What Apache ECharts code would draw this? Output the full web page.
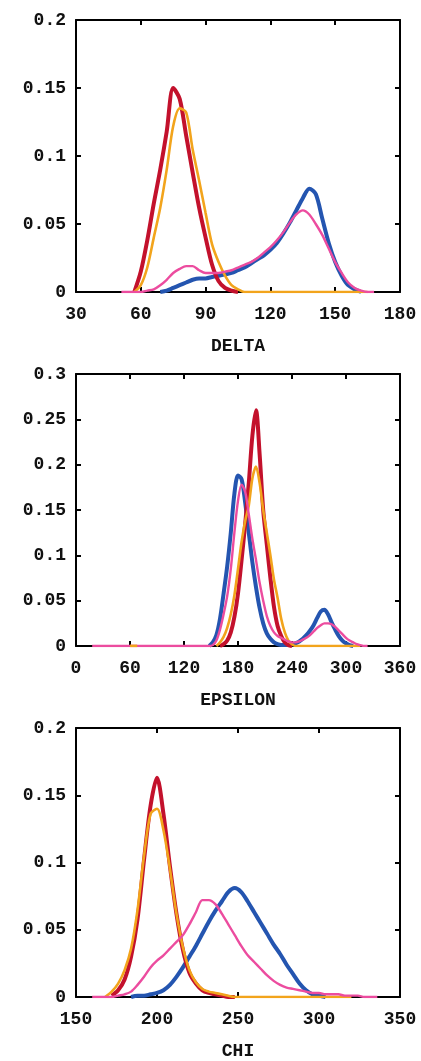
<!DOCTYPE html>
<html>
<head>
<meta charset="utf-8">
<script src="https://cdn.jsdelivr.net/npm/echarts@6/dist/echarts.min.js"></script>
<style>
html,body{margin:0;padding:0;background:#fff;}
#chart{width:421px;height:1061px;}
</style>
</head>
<body>
<div id="chart"></div>
<script>
// ---------- DATA ----------
// Panel 1: DELTA
const deltaX = [48,51,54,57,60,63,66,69,72,75,78,81,84,87,90,93,96,99,102,105,108,111,114,117,120,123,126,129,132,135,138,141,144,147,150,153,156,159,162,165,168,171];
const deltaRed = [null,null,null,0,0.015,0.038,0.065,0.090,0.118,0.150,0.142,0.115,0.088,0.062,0.040,0.020,0.008,0.003,0.001,0,
  null,null,null,null,null,null,null,null,null,null,null,null,null,null,null,null,null,null,null,null,null,null];
const deltaOrange = [null,null,null,0,0.005,0.018,0.040,0.062,0.090,0.122,0.135,0.132,0.105,0.082,0.058,0.035,0.022,0.012,0.005,0.002,0,
  0,0,0,0,0,0,0,0,0,0,0,0,0,0,0,0,0,0,0,null,null];
const deltaBlue = [null,null,null,null,null,null,null,0,0.001,0.003,0.005,0.007,0.009,0.010,0.010,0.011,0.012,0.013,0.014,0.016,0.018,0.021,0.024,0.027,0.031,0.036,0.043,0.051,0.060,0.069,0.076,0.072,0.054,0.036,0.022,0.012,0.005,0.002,0,null,null,null];
const deltaPink = [null,0,0,0,0,0.001,0.002,0.005,0.009,0.014,0.017,0.019,0.019,0.016,0.014,0.014,0.014,0.015,0.016,0.018,0.020,0.022,0.025,0.029,0.033,0.038,0.044,0.051,0.057,0.060,0.057,0.050,0.042,0.032,0.022,0.014,0.007,0.003,0.001,0,0,null];

// Panel 2: EPSILON
const epsX = [18,60,68,100,140,144,148,152,156,160,164,168,172,176,180,184,188,192,196,200,204,208,212,216,220,224,228,232,236,240,244,248,252,256,260,264,268,272,276,280,284,288,292,296,300,304,308,312,316,320,324,328];
const epsRed = [null,null,null,null,null,
  null,null,null,null,0,0.002,0.006,0.015,0.032,0.058,0.095,0.135,0.180,0.232,0.260,0.212,0.150,0.112,0.075,0.043,0.022,0.011,0.004,0.001,0,
  null,null,null,null,null,null,null,null,null,null,null,null,null,null,null,null,null,null,null,null,null,null];
const epsOrange = [null,0,0,null,null,
  null,null,null,0,0.004,0.010,0.020,0.035,0.056,0.085,0.115,0.138,0.155,0.185,0.198,0.180,0.150,0.125,0.100,0.073,0.053,0.030,0.015,0.006,0.002,0,
  0,0,0,0,0,0,0,0,0,0,0,0,0,0,0,0,0,0,null,null,null];
const epsBlue = [null,null,null,null,null,
  null,0,0.004,0.012,0.030,0.058,0.088,0.125,0.168,0.188,0.184,0.158,0.125,0.092,0.065,0.042,0.025,0.014,0.008,0.004,0.002,0.001,0.001,0.001,0.002,0.003,0.005,0.008,0.012,0.017,0.023,0.031,0.038,0.040,0.035,0.026,0.018,0.011,0.006,0.003,0.001,0,null,null,null,null,null];
const epsPink = [0,0,0,0,0,
  0,0,0.001,0.006,0.018,0.035,0.055,0.085,0.125,0.160,0.178,0.170,0.145,0.118,0.095,0.070,0.050,0.033,0.022,0.015,0.011,0.009,0.007,0.005,0.004,0.004,0.005,0.007,0.009,0.012,0.016,0.020,0.023,0.025,0.025,0.024,0.021,0.017,0.013,0.009,0.006,0.004,0.002,0.001,0,0,null];

// Panel 3: CHI
const chiX = [160,164,168,172,176,180,184,188,192,196,200,204,208,212,216,220,224,228,232,236,240,244,248,252,256,260,264,268,272,276,280,284,288,292,296,300,304,308,312,316,320,324,328,332,336,340];
const chiRed = [null,null,null,0.001,0.005,0.013,0.030,0.058,0.102,0.142,0.163,0.136,0.097,0.062,0.035,0.018,0.010,0.005,0.003,0.002,0.001,0,0,
  null,null,null,null,null,null,null,null,null,null,null,null,null,null,null,null,null,null,null,null,null,null,null];
const chiOrange = [null,null,0,0.004,0.010,0.020,0.036,0.065,0.105,0.136,0.140,0.124,0.095,0.062,0.037,0.020,0.011,0.006,0.004,0.003,0.002,0.001,0,
  0,0,0,0,0,0,0,0,0,0,0,0,0,0,0,0,0,0,null,null,null,null,null];
const chiBlue = [null,null,null,null,null,null,0,0.001,0.001,0.002,0.003,0.005,0.009,0.015,0.022,0.030,0.038,0.047,0.056,0.064,0.071,0.078,0.081,0.078,0.071,0.063,0.055,0.047,0.039,0.032,0.024,0.017,0.010,0.005,0.002,0.001,0,
  null,null,null,null,null,null,null,null,null];
const chiPink = [0,0,0,0,0.001,0.002,0.004,0.009,0.015,0.022,0.027,0.031,0.036,0.041,0.046,0.054,0.063,0.072,0.072,0.069,0.062,0.054,0.046,0.038,0.031,0.026,0.021,0.016,0.012,0.009,0.007,0.006,0.005,0.004,0.003,0.003,0.002,0.002,0.002,0.001,0.001,0.001,0,0,0,null];

// axis definitions
const panelNames = ['DELTA', 'EPSILON', 'CHI'];
const xRanges = [[30, 180, 30], [0, 360, 60], [150, 350, 50]];
const yRanges = [[0, 0.2, 0.05], [0, 0.3, 0.05], [0, 0.2, 0.05]];

// ---------- CHART ----------
const FONT = 'Liberation Mono';
const COLORS = {blue: '#2455b0', red: '#c3112c', orange: '#f2a41c', pink: '#ec4c9f'};
const grids = [
  {left: 76, width: 324, top: 20, height: 272},
  {left: 76, width: 324, top: 374, height: 272},
  {left: 76, width: 324, top: 728, height: 273}
];

function pairs(xs, ys) {
  return xs.map((x, i) => [x, ys[i] == null ? '-' : ys[i]]);
}

const lineAx = {show: true, onZero: false, lineStyle: {color: '#000', width: 2}};
const tickAx = {show: true, inside: true, length: 5, lineStyle: {color: '#000', width: 2}};
const lab = {color: '#111', fontFamily: FONT, fontWeight: 'bold', fontSize: 18};

const xAxis = [], yAxis = [], series = [];
grids.forEach((g, i) => {
  const [xmin, xmax, xint] = xRanges[i];
  const [ymin, ymax, yint] = yRanges[i];
  xAxis.push({
    type: 'value', gridIndex: i, position: 'bottom', min: xmin, max: xmax, interval: xint,
    axisLine: lineAx, axisTick: tickAx, splitLine: {show: false},
    axisLabel: Object.assign({margin: 13, showMinLabel: true, showMaxLabel: true}, lab),
    name: panelNames[i], nameLocation: 'middle', nameGap: 45,
    nameTextStyle: {color: '#111', fontFamily: FONT, fontWeight: 'bold', fontSize: 18}
  });
  xAxis.push({
    type: 'value', gridIndex: i, position: 'top', min: xmin, max: xmax, interval: xint,
    axisLine: lineAx, axisTick: tickAx, splitLine: {show: false}, axisLabel: {show: false}
  });
  yAxis.push({
    type: 'value', gridIndex: i, position: 'left', min: ymin, max: ymax, interval: yint,
    axisLine: lineAx, axisTick: tickAx, splitLine: {show: false},
    axisLabel: Object.assign({margin: 10}, lab)
  });
  yAxis.push({
    type: 'value', gridIndex: i, position: 'right', min: ymin, max: ymax, interval: yint,
    axisLine: lineAx, axisTick: tickAx, splitLine: {show: false}, axisLabel: {show: false}
  });
});

const panelData = [
  [deltaX, deltaBlue, deltaRed, deltaOrange, deltaPink],
  [epsX, epsBlue, epsRed, epsOrange, epsPink],
  [chiX, chiBlue, chiRed, chiOrange, chiPink]
];
const styles = [
  {name: 'blue', w: 4},
  {name: 'red', w: 4},
  {name: 'orange', w: 2.6},
  {name: 'pink', w: 2.4}
];
panelData.forEach((pd, i) => {
  const xs = pd[0];
  styles.forEach((s, k) => {
    series.push({
      type: 'line', xAxisIndex: i * 2, yAxisIndex: i * 2,
      data: pairs(xs, pd[k + 1]),
      showSymbol: false, smooth: 0.3, connectNulls: false,
      lineStyle: {color: COLORS[s.name], width: s.w},
      itemStyle: {color: COLORS[s.name]},
      animation: false, silent: true
    });
  });
});
// small orange segment near 60-68 on the epsilon panel drawn above the pink baseline
series.push({
  type: 'line', xAxisIndex: 2, yAxisIndex: 2, z: 3,
  data: pairs(epsX.slice(0, 4), epsOrange.slice(0, 4)),
  showSymbol: false, lineStyle: {color: COLORS.orange, width: 2.6},
  animation: false, silent: true
});

const chart = echarts.init(document.getElementById('chart'));
chart.setOption({
  backgroundColor: '#fff',
  animation: false,
  grid: grids,
  xAxis: xAxis,
  yAxis: yAxis,
  series: series
});
</script>
</body>
</html>
